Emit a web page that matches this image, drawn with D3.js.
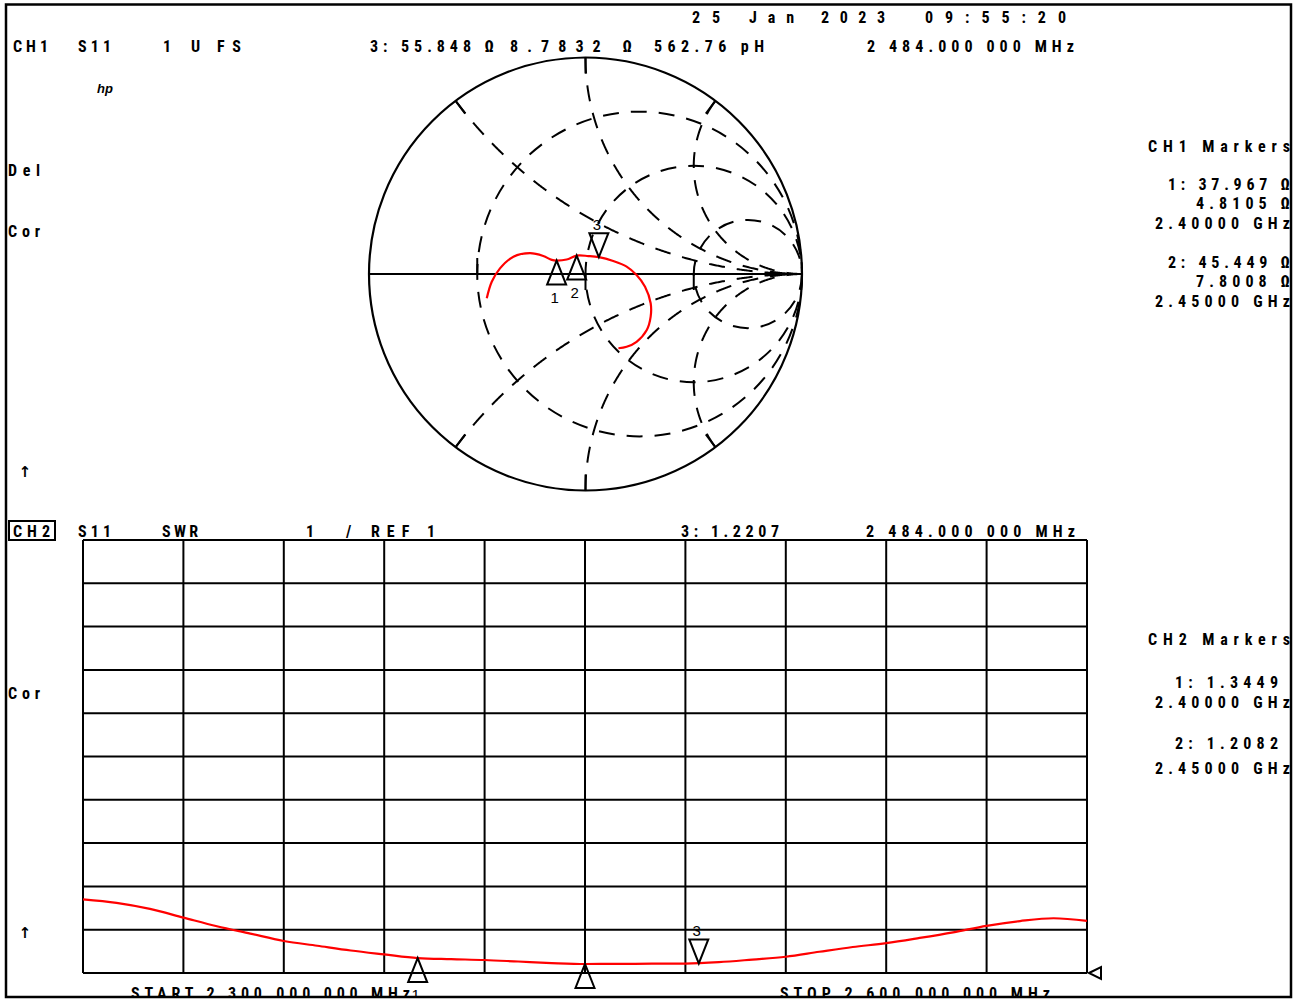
<!DOCTYPE html>
<html><head><meta charset="utf-8">
<script src="https://cdn.jsdelivr.net/npm/d3@7/dist/d3.min.js"></script>
<style>
html,body{margin:0;padding:0;background:#fff;}
svg{display:block;}
text{font-family:"Roboto Condensed","Roboto","Liberation Sans Narrow",sans-serif;font-weight:700;fill:#000;}
</style></head><body>
<svg id="c" width="1301" height="1001"></svg>
<script>
// ---------------- DATA ----------------
// CH1 Smith trace, reflection coefficient (2.3 -> 2.6 GHz)
const smithGammaRe = [-0.456,-0.433,-0.395,-0.333,-0.256,-0.195,-0.156,-0.133,-0.087,-0.041,0.013,0.062,0.128,0.190,0.236,0.275,0.301,0.301,0.283,0.236,0.190,0.152];
const smithGammaIm = [-0.112,-0.036,0.026,0.080,0.096,0.083,0.065,0.062,0.067,0.085,0.083,0.078,0.060,0.034,-0.005,-0.059,-0.135,-0.197,-0.259,-0.313,-0.336,-0.343];
// Smith grid values
const smithR = [1/3, 1, 3];
const smithX = [0.5, 1, 2];
// markers
const markerFreqGHz = [2.40, 2.45, 2.484];
const ch1MarkerR = [37.967, 45.449, 55.848];
const ch1MarkerX = [4.8105, 7.8008, 8.7832];
const ch1MarkerL = "562.76 pH";
const ch2MarkerSWR = [1.3449, 1.2082, 1.2207];
// CH2 SWR trace
const swrFreqMHz = [2300,2310,2320,2330,2340,2350,2360,2370,2380,2390,2400,2410,2420,2430,2440,2450,2460,2470,2480,2490,2500,2510,2520,2530,2540,2550,2560,2570,2580,2590,2600];
const swrValues  = [2.70,2.62,2.48,2.28,2.08,1.91,1.74,1.63,1.52,1.43,1.345,1.32,1.30,1.265,1.23,1.208,1.21,1.215,1.218,1.25,1.31,1.376,1.49,1.60,1.69,1.81,1.94,2.09,2.20,2.265,2.205];
const swrTicks = [1,2,3,4,5,6,7,8,9,10,11];
const freqTicks = [2300,2330,2360,2390,2420,2450,2480,2510,2540,2570,2600];
const startLabel = "START 2 300.000 000 MHz";
const stopLabel = "STOP 2 600.000 000 MHz";
const cwLabel = "2 484.000 000 MHz";

// ---------------- SETUP ----------------
const svg = d3.select("#c");
const defs = svg.append("defs");
defs.append("clipPath").attr("id","frame").append("rect")
  .attr("x",7).attr("y",5).attr("width",1283).attr("height",991);

const sx = d3.scaleLinear().domain([-1,1]).range([369,802]);
const sy = d3.scaleLinear().domain([-1,1]).range([490.5,57.5]);
const R = sx(1)-sx(0);
const fx = d3.scaleLinear().domain([2300,2600]).range([83,1087]);
const fy = d3.scaleLinear().domain([1,11]).range([973,540]);

const BLK = "#000", RED = "#ff0000";

// ---------------- SMITH CHART ----------------
const gs = svg.append("g");
const dash = "16 12";
gs.selectAll("circle.rc").data(smithR).join("circle").attr("class","rc")
  .attr("cx", r => sx(r/(1+r))).attr("cy", sy(0))
  .attr("r", r => sx(1/(1+r)) - sx(0))
  .attr("fill","none").attr("stroke",BLK).attr("stroke-width",2).attr("stroke-dasharray",dash);
function gammaOf(r, x){
  const nr = r-1, ni = x, dr = r+1, di = x;
  const den = dr*dr+di*di;
  return [(nr*dr+ni*di)/den, (ni*dr-nr*di)/den];
}
const us = d3.range(0, 0.9995, 0.0025);
const xs = smithX.flatMap(x => [x, -x]);
const sline = d3.line().x(d => sx(d[0])).y(d => sy(d[1]));
gs.selectAll("path.xa").data(xs).join("path").attr("class","xa")
  .attr("d", x => sline(us.map(u => gammaOf(u/(1-u), x))))
  .attr("fill","none").attr("stroke",BLK).attr("stroke-width",2).attr("stroke-dasharray",dash);
gs.append("circle").attr("cx",sx(0)).attr("cy",sy(0)).attr("r",R)
  .attr("fill","none").attr("stroke",BLK).attr("stroke-width",2.2);
gs.append("line").attr("x1",sx(-1)).attr("x2",sx(1)).attr("y1",sy(0)).attr("y2",sy(0))
  .attr("stroke",BLK).attr("stroke-width",2.2);
gs.selectAll("line.ot").data(xs).join("line").attr("class","ot")
  .each(function(x){
    const g = gammaOf(0, x);
    d3.select(this).attr("x1", sx(g[0])).attr("y1", sy(g[1]))
      .attr("x2", sx(g[0]*(1-16/R))).attr("y2", sy(g[1]*(1-16/R)));
  })
  .attr("stroke",BLK).attr("stroke-width",2);
gs.selectAll("line.at").data(smithR).join("line").attr("class","at")
  .each(function(r, i){
    const g0 = (r-1)/(r+1);
    d3.select(this).attr("x1", sx(g0)).attr("x2", sx(g0))
      .attr("y1", sy(0)).attr("y2", sy(0) + (i===0 ? -16 : 16));
  })
  .attr("stroke",BLK).attr("stroke-width",2);

const smithPts = smithGammaRe.map((re,i) => [re, smithGammaIm[i]]);
gs.append("path").attr("d", d3.line().x(d=>sx(d[0])).y(d=>sy(d[1])).curve(d3.curveCatmullRom)(smithPts))
  .attr("fill","none").attr("stroke",RED).attr("stroke-width",2.2);

function tri(x, y, up){
  const h = 24, w = 9.5, d = up ? 1 : -1;
  return `M${x},${y}L${x-w},${y+d*h}L${x+w},${y+d*h}Z`;
}
function drawMarker(g, px, py, idx){
  const active = idx === 2;
  g.append("path").attr("d", tri(px, py, !active))
    .attr("fill","none").attr("stroke",BLK).attr("stroke-width",2);
  g.append("text").attr("x", px-2).attr("y", active ? py-33+6 : py+36+6)
    .attr("text-anchor","middle").style("font-weight","400")
    .style("font-family","'Liberation Sans',sans-serif").style("font-size","15px")
    .text(idx+1);
}
ch1MarkerR.forEach((r,i) => {
  const g = gammaOf(r/50, ch1MarkerX[i]/50);
  drawMarker(gs, sx(g[0]), sy(g[1]), i);
});

// ---------------- SWR CHART ----------------
const gw = svg.append("g");
gw.selectAll("line.v").data(freqTicks).join("line")
  .attr("x1", d=>fx(d)).attr("x2", d=>fx(d)).attr("y1", fy(11)).attr("y2", fy(1))
  .attr("stroke",BLK).attr("stroke-width",2);
gw.selectAll("line.h").data(swrTicks).join("line")
  .attr("x1", fx(2300)).attr("x2", fx(2600)).attr("y1", d=>fy(d)).attr("y2", d=>fy(d))
  .attr("stroke",BLK).attr("stroke-width",2);
gw.append("path")
  .attr("d", d3.line().x((d,i)=>fx(swrFreqMHz[i])).y(d=>fy(d)).curve(d3.curveMonotoneX)(swrValues))
  .attr("fill","none").attr("stroke",RED).attr("stroke-width",2.2);
const gwm = gw.append("g").attr("clip-path","url(#frame)");
ch2MarkerSWR.forEach((v,i) => drawMarker(gwm, fx(markerFreqGHz[i]*1000), fy(v), i));
gw.append("path").attr("d", `M${fx(2600)+2},${fy(1)}L${fx(2600)+14},${fy(1)-6}L${fx(2600)+14},${fy(1)+6}Z`)
  .attr("fill","none").attr("stroke",BLK).attr("stroke-width",2);

// ---------------- TEXT ----------------
const gt = svg.append("g").attr("clip-path","url(#frame)");
function txt(s, x, cy, w, size){
  const t = gt.append("text").attr("x", x).attr("y", cy + 6)
    .style("font-size", (size||16)+"px").text(s);
  if (w) t.attr("textLength", w).attr("lengthAdjust","spacing");
  return t;
}
txt("25", 692, 17, 28); txt("Jan", 749, 17, 45); txt("2023", 821, 17, 64); txt("09:55:20", 925, 17, 141);
txt("CH1", 13, 46, 35); txt("S11", 78, 46, 33); txt("1", 163, 46); txt("U", 191, 46); txt("FS", 217, 46, 24);
txt(`3: ${ch1MarkerR[2].toFixed(3)} Ω`, 370, 46, 124);
txt(`${ch1MarkerX[2].toFixed(4)} Ω`, 510, 46, 122);
txt(ch1MarkerL, 654, 46, 110);
txt(cwLabel, 867, 46, 207);
gt.append("text").attr("x",97).attr("y",93).style("font-size","13px").style("font-weight","700")
  .style("font-style","italic").style("font-family","'Liberation Sans',sans-serif").text("hp");
txt("Del", 8, 170, 32); txt("Cor", 8, 231, 32); txt("Cor", 8, 693, 32);
[471, 932].forEach(y => gt.append("text").attr("x",25).attr("y",y+6).attr("text-anchor","middle")
  .style("font-family","'DejaVu Sans',sans-serif").style("font-weight","700").style("font-size","15px").text("↑"));
txt("CH1 Markers", 1148, 146, 142);
[0,1].forEach(i => {
  const y0 = 184 + i*78;
  txt(`${i+1}: ${ch1MarkerR[i].toFixed(3)} Ω`, 1168, y0, 122);
  txt(`${ch1MarkerX[i].toFixed(4)} Ω`, 1196, y0+19, 94);
  txt(`${markerFreqGHz[i].toFixed(5)} GHz`, 1155, y0+39, 135);
});
gt.append("rect").attr("x",9).attr("y",521).attr("width",46).attr("height",19)
  .attr("fill","none").attr("stroke",BLK).attr("stroke-width",2);
txt("CH2", 13, 531, 37); txt("S11", 78, 531, 33); txt("SWR", 162, 531, 36);
txt("1", 306, 531); txt("/", 346, 531); txt("REF 1", 371, 531, 64);
txt(`3: ${ch2MarkerSWR[2].toFixed(4)}`, 681, 531, 98);
txt(cwLabel, 866, 531, 209);
txt("CH2 Markers", 1148, 639, 142);
txt(`1: ${ch2MarkerSWR[0].toFixed(4)}`, 1175, 682, 103);
txt(`${markerFreqGHz[0].toFixed(5)} GHz`, 1155, 702, 135);
txt(`2: ${ch2MarkerSWR[1].toFixed(4)}`, 1175, 743, 103);
txt(`${markerFreqGHz[1].toFixed(5)} GHz`, 1155, 768, 135);
txt(startLabel, 131, 993, 279);
txt(stopLabel, 780, 993, 270);

// ---------------- FRAME ----------------
svg.append("rect").attr("x",6).attr("y",4.5).attr("width",1285).attr("height",992.5)
  .attr("fill","none").attr("stroke",BLK).attr("stroke-width",2.5);
</script>
</body></html>
